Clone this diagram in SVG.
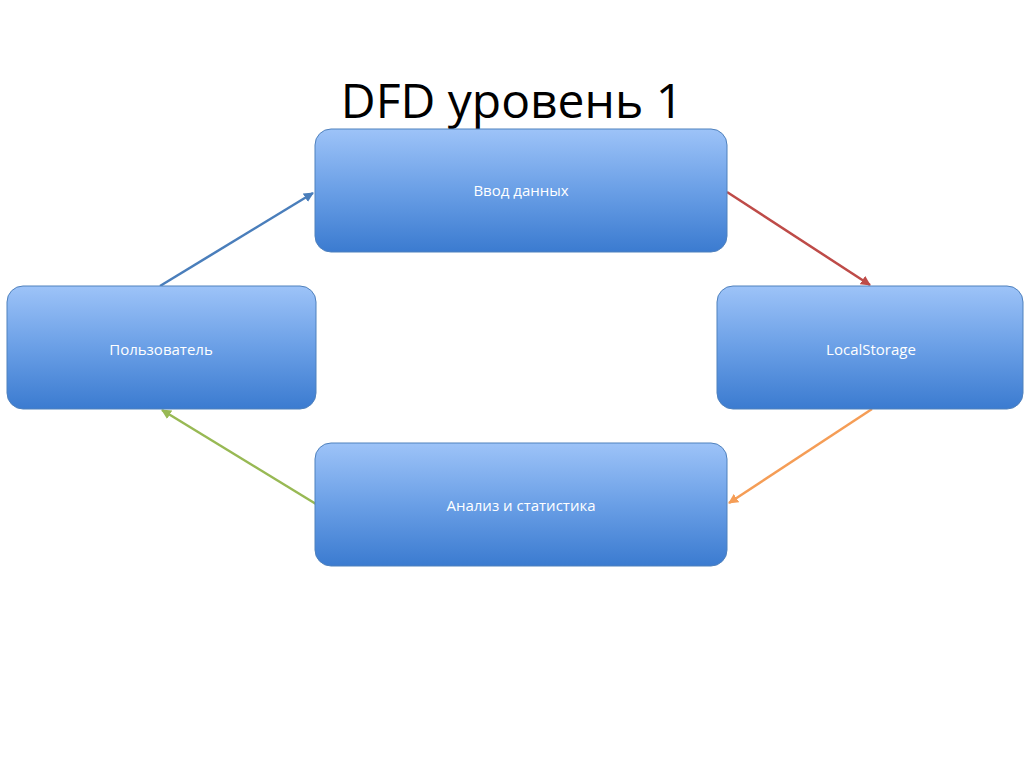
<svg xmlns="http://www.w3.org/2000/svg" width="1024" height="767" viewBox="0 0 1024 767">
<defs>
<linearGradient id="g" x1="0" y1="0" x2="0" y2="1">
<stop offset="0" stop-color="#9dc3f8"/><stop offset="0.5" stop-color="#6a9fe6"/><stop offset="1" stop-color="#3b7bd0"/>
</linearGradient>
<marker id="ab" viewBox="0 0 10 10" refX="9" refY="5" markerWidth="4" markerHeight="4" orient="auto"><path d="M0,0L10,5L0,10z" fill="#4a7ebb"/></marker>
<marker id="ar" viewBox="0 0 10 10" refX="9" refY="5" markerWidth="4" markerHeight="4" orient="auto"><path d="M0,0L10,5L0,10z" fill="#be4b48"/></marker>
<marker id="ao" viewBox="0 0 10 10" refX="9" refY="5" markerWidth="4" markerHeight="4" orient="auto"><path d="M0,0L10,5L0,10z" fill="#f59d56"/></marker>
<marker id="ag" viewBox="0 0 10 10" refX="9" refY="5" markerWidth="4" markerHeight="4" orient="auto"><path d="M0,0L10,5L0,10z" fill="#98b954"/></marker>
</defs>
<style>
.n{fill:url(#g);stroke:#4f81bd;stroke-width:1}
.t{font-family:"Open Sans","Liberation Sans",sans-serif;font-size:15px;fill:#fff;text-anchor:middle}
.c{stroke-width:2.5;fill:none}
</style>
<rect width="1024" height="767" fill="#fff"/>
<text x="512" y="118" font-family="Open Sans,Liberation Sans,sans-serif" font-size="48" text-anchor="middle" fill="#000">DFD уровень 1</text>
<g id="connectors">
<line class="c" x1="160" y1="286" x2="313" y2="193" stroke="#4a7ebb" marker-end="url(#ab)"/>
<line class="c" x1="727" y1="192" x2="870" y2="285" stroke="#be4b48" marker-end="url(#ar)"/>
<line class="c" x1="872" y1="409" x2="729" y2="503" stroke="#f59d56" marker-end="url(#ao)"/>
<line class="c" x1="316" y1="504" x2="162" y2="410" stroke="#98b954" marker-end="url(#ag)"/>
</g>
<g id="vvod"><rect class="n" x="315" y="129" width="412" height="123" rx="16"/><text class="t" x="521" y="196">Ввод данных</text></g>
<g id="user"><rect class="n" x="7" y="286" width="309" height="123" rx="16"/><text class="t" x="161" y="355">Пользователь</text></g>
<g id="storage"><rect class="n" x="717" y="286" width="306" height="123" rx="16"/><text class="t" x="871" y="355">LocalStorage</text></g>
<g id="analiz"><rect class="n" x="315" y="443" width="412" height="123" rx="16"/><text class="t" x="521" y="511">Анализ и статистика</text></g>
</svg>
